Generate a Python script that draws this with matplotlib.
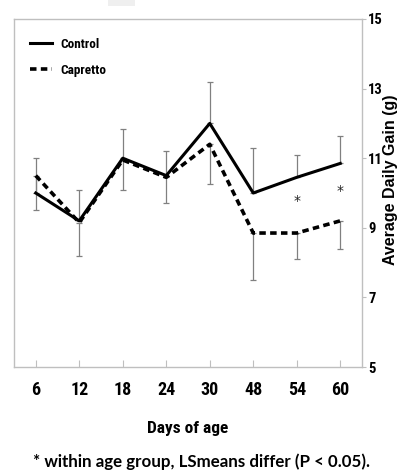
import matplotlib.pyplot as plt
from matplotlib.patches import Rectangle
from matplotlib import font_manager

days = ["6", "12", "18", "24", "30", "48", "54", "60"]
control = [10.0, 9.2, 11.0, 10.5, 12.0, 10.0, 10.45, 10.85]
capretto = [10.5, 9.15, 10.95, 10.45, 11.4, 8.85, 8.85, 9.2]
control_err_up = [1.0, 0.9, 0.85, 0.7, 1.2, 1.3, 0.65, 0.8]
capretto_err_down = [1.0, 0.95, 0.85, 0.75, 1.15, 1.35, 0.75, 0.8]
star_days = [6, 7]
star_y = [9.76, 10.07]

GRAY = "#bfbfbf"
NARROW_FAMILIES = ["Roboto Condensed", "Liberation Sans Narrow", "DejaVu Sans"]


def narrow(size):
    return font_manager.FontProperties(family=NARROW_FAMILIES, weight="bold",
                                       stretch="condensed", size=size)


def main():
    fig = plt.figure(figsize=(3.99, 4.70), dpi=100)
    ax = fig.add_axes([0.0351, 0.2191, 0.8722, 0.7405])
    x = list(range(len(days)))
    zeros = [0] * len(days)

    ax.errorbar(x, control, yerr=[zeros, control_err_up], fmt="none",
                ecolor="#808080", elinewidth=0.9, capsize=2.5, capthick=0.9, zorder=1)
    ax.errorbar(x, capretto, yerr=[capretto_err_down, zeros], fmt="none",
                ecolor="#808080", elinewidth=0.9, capsize=2.5, capthick=0.9, zorder=1)

    ax.plot(x, control, color="black", lw=2.2, label="Control", zorder=3)
    ax.plot(x, capretto, color="black", lw=2.6, linestyle=(0, (1.8, 1.2)),
            label="Capretto", zorder=2)

    for d, y in zip(star_days, star_y):
        ax.text(d, y, "*", ha="center", va="center", fontsize=10, color="#222222")

    ax.set_xlim(-0.5, 7.5)
    ax.set_ylim(5, 15)
    ax.set_xticks(x)
    ax.set_xticklabels(days, fontproperties=narrow(13))
    ax.set_yticks([5, 7, 9, 11, 13, 15])
    ax.set_yticklabels(["5", "7", "9", "11", "13", "15"], fontproperties=narrow(10.5))
    ax.yaxis.tick_right()
    ax.tick_params(axis="x", direction="in", length=5, color=GRAY, pad=10)
    ax.tick_params(axis="y", direction="out", length=3, color=GRAY, pad=1.5)
    for s in ax.spines.values():
        s.set_color(GRAY)
        s.set_linewidth(1.0)

    ax.set_xlabel("Days of age", fontproperties=narrow(12.5), labelpad=16)

    fig.text(0.979, 0.617, "Average Daily Gain (g)", rotation=90, ha="center",
             va="center", fontsize=11.5, fontweight="bold", family="Liberation Sans")

    ax.legend(loc="upper left", frameon=False, handlelength=1.7, handletextpad=0.6,
              bbox_to_anchor=(0.012, 0.98), labelspacing=1.0, prop=narrow(9.5))

    fig.text(0.506, 0.017, "* within age group, LSmeans differ (P < 0.05).",
             ha="center", va="center", fontsize=12.2, fontweight="bold", family="Lato")

    fig.patches.append(Rectangle((0.27, 0.987), 0.068, 0.013, transform=fig.transFigure,
                                 facecolor="#efefef", edgecolor="none"))

    fig.savefig("out.png", dpi=100)


if __name__ == "__main__":
    main()
